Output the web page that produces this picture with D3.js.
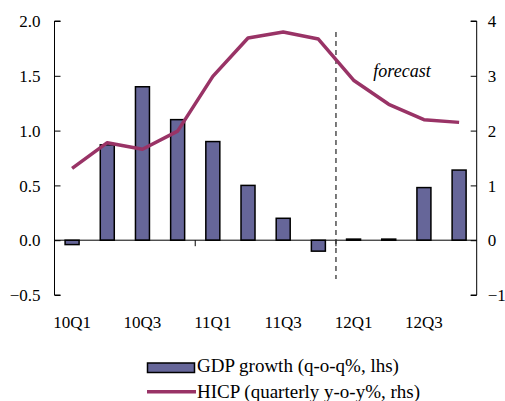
<!DOCTYPE html>
<html><head><meta charset="utf-8">
<script src="https://cdn.jsdelivr.net/npm/d3@7"></script>
<style>body{margin:0;background:#fff}svg{display:block}svg text{font-family:'Liberation Serif','Times New Roman',Times,'DejaVu Serif',serif !important;fill:#000}</style>
</head><body><svg id="c" width="505" height="401"></svg>
<script>
const quarters = ["10Q1","10Q2","10Q3","10Q4","11Q1","11Q2","11Q3","11Q4","12Q1","12Q2","12Q3","12Q4"];
const gdp = [-0.04,0.87,1.4,1.1,0.9,0.5,0.2,-0.1,0.01,0.01,0.48,0.64];
const hicp = [1.31,1.78,1.66,1.99,2.99,3.69,3.80,3.67,2.92,2.48,2.20,2.15];
const leftTicks = [-0.5,0,0.5,1,1.5,2];
const rightTicks = [-1,0,1,2,3,4];
const forecastStart = "12Q1";

const svg = d3.select("#c");
const L = 54.5, R = 476.7, T = 21, B = 295;
const xs = d3.scaleBand().domain(quarters).range([L, R]);
const yL = d3.scaleLinear().domain([-0.5, 2]).range([B, T]);
const yR = d3.scaleLinear().domain([-1, 4]).range([B, T]);
const serif = "'Liberation Serif','Times New Roman',serif";

// bars
svg.append("g").selectAll("rect").data(gdp).join("rect")
  .attr("x", (d,i) => xs(quarters[i]) + xs.bandwidth()/2 - 7)
  .attr("width", 14)
  .attr("y", d => Math.min(yL(d), yL(0)))
  .attr("height", d => Math.max(Math.abs(yL(d) - yL(0)), 1))
  .attr("fill", "#666699").attr("stroke", "#000").attr("stroke-width", 1.5);

// zero line
svg.append("line").attr("x1", L).attr("x2", R).attr("y1", yL(0)).attr("y2", yL(0)).attr("stroke", "#000").attr("stroke-width", 1);
// x ticks at year boundaries
svg.append("g").selectAll("line").data([4, 8]).join("line")
  .attr("x1", d => xs(quarters[d])).attr("x2", d => xs(quarters[d]))
  .attr("y1", yL(0)).attr("y2", yL(0) + 6).attr("stroke", "#000");

// left axis
const gl = svg.append("g").attr("transform", `translate(${L},0)`)
  .call(d3.axisRight(yL).tickValues(leftTicks).tickSize(6).tickFormat(d3.format(".1f")));
gl.attr("font-family", serif);
gl.select(".domain").attr("d", `M6,${T}H0V${B}H6`).attr("stroke-width", 1);
gl.selectAll("text").attr("text-anchor", "end").attr("x", -14).attr("dy", "0.34em").attr("font-family", serif).style("font-size", "17px");

// right axis
const gr = svg.append("g").attr("transform", `translate(${R},0)`)
  .call(d3.axisLeft(yR).tickValues(rightTicks).tickSize(6).tickFormat(d3.format("d")));
gr.attr("font-family", serif);
gr.select(".domain").attr("d", `M-6,${T}H0V${B}H-6`).attr("stroke-width", 1);
gr.selectAll("text").attr("text-anchor", "start").attr("x", 11).attr("dy", "0.34em").attr("font-family", serif).style("font-size", "17px");

// x labels
svg.append("g").selectAll("text").data(quarters.filter((q,i) => i % 2 === 0)).join("text")
  .attr("x", d => xs(d) + xs.bandwidth()/2).attr("y", 328).attr("text-anchor", "middle")
  .attr("font-family", serif).style("font-size", "17px").text(d => d);

// forecast divider
const fx = xs(forecastStart);
svg.append("line").attr("x1", fx).attr("x2", fx).attr("y1", 32).attr("y2", 279)
  .attr("stroke", "#333").attr("stroke-width", 1.3).attr("stroke-dasharray", "5,4");
svg.append("text").attr("x", 402).attr("y", 77).attr("text-anchor", "middle").attr("font-family", serif)
  .style("font-size", "18px").style("font-style", "italic").text("forecast");

// HICP line
const line = d3.line().x((d,i) => xs(quarters[i]) + xs.bandwidth()/2).y(d => yR(d));
svg.append("path").datum(hicp).attr("d", line).attr("fill", "none")
  .attr("stroke", "#993366").attr("stroke-width", 3.5).attr("stroke-linejoin", "round");

// legend
svg.append("rect").attr("x", 147.5).attr("y", 363).attr("width", 47).attr("height", 9.5)
  .attr("fill", "#666699").attr("stroke", "#000").attr("stroke-width", 1.5);
svg.append("text").attr("x", 197).attr("y", 372).attr("font-family", serif).style("font-size", "19px").text("GDP growth (q-o-q%, lhs)");
svg.append("line").attr("x1", 147).attr("x2", 196).attr("y1", 391.7).attr("y2", 391.7)
  .attr("stroke", "#993366").attr("stroke-width", 3.5);
svg.append("text").attr("x", 197).attr("y", 397.5).attr("font-family", serif).style("font-size", "19px").text("HICP (quarterly y-o-y%, rhs)");
</script></body></html>
